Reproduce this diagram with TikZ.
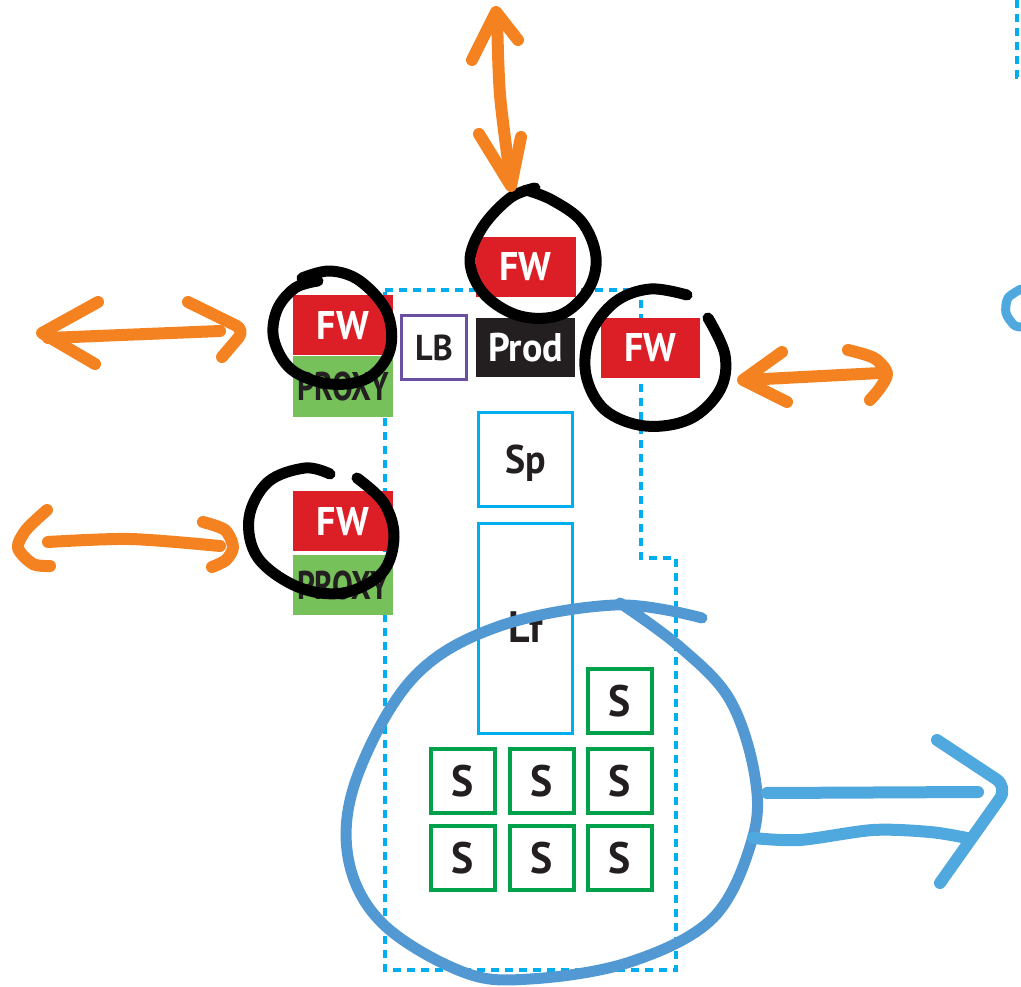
\documentclass[tikz,border=0pt]{standalone}
\usepackage{fontspec}
\setmainfont{PT Sans}[FakeStretch=0.95]
\newfontfamily\narrowfont{PT Sans}[FakeStretch=0.78]
\definecolor{fwred}{HTML}{DC1F26}
\definecolor{proxygreen}{HTML}{76C15A}
\definecolor{prodblack}{HTML}{231F20}
\definecolor{lbpurple}{HTML}{6B4FA0}
\definecolor{zonecyan}{HTML}{00AEEF}
\definecolor{shardgreen}{HTML}{00A14B}
\definecolor{arrowyellow}{HTML}{F58220}
\definecolor{loopblue}{HTML}{5299D3}
\definecolor{pushblue}{HTML}{4FA9DE}

\begin{document}
\begin{tikzpicture}[x=1pt,y=-1pt,
  every node/.style={inner sep=0pt,text height=28pt,text depth=0pt,
    font=\bfseries\fontsize{40}{40}\selectfont},
  fw/.style={fill=fwred,text=white,minimum width=100pt,minimum height=60pt},
  proxy/.style={fill=proxygreen,text=prodblack,minimum width=100pt,minimum height=61pt,
    font=\narrowfont\bfseries\fontsize{40}{40}\selectfont},
  svc/.style={draw=zonecyan,line width=3pt,text=prodblack},
  shard/.style={draw=shardgreen,line width=4pt,minimum size=64pt,text=prodblack,
    font=\bfseries\fontsize{44}{44}\selectfont,text height=31pt},
  zone/.style={zonecyan,line width=4pt,dash pattern=on 8pt off 6pt},
  ring/.style={black,line width=11pt,line cap=round,line join=round},
  swap/.style={arrowyellow,line width=12pt,line cap=round,line join=round},
  push/.style={pushblue,line width=12pt,line cap=round,line join=round}]

\useasboundingbox (0,0) rectangle (1021,987);

% zone
\draw[zone] (385,290) -- (641,290) -- (641,558) -- (676,558) -- (676,970) -- (385,970) -- cycle;
\draw[zone] (1017,0) -- (1017,77) -- (1021,77);

% boxes
\node[fw] (fwtop) at (525.5,267) {FW};
\node[fill=prodblack,text=white,minimum width=99pt,minimum height=59pt] (prod) at (525.5,347.5) {Prod};
\node[draw=lbpurple,line width=3pt,minimum width=65pt,minimum height=64pt,text=prodblack,
  font=\bfseries\fontsize{36}{36}\selectfont,text height=25pt] (lb) at (434,347.5) {LB};
\node[proxy] (proxya) at (343,386.5) {PROXY};
\node[fw] (fwa) at (343,325) {FW};
\node[fw,minimum width=99pt] (fwr) at (650.5,348) {FW};
\node[proxy,minimum height=60pt] (proxyb) at (343,585) {PROXY};
\node[fw] (fwb) at (343,521) {FW};
\node[svc,minimum width=94pt,minimum height=94pt] (sp) at (525.5,459.5) {Sp};
\node[svc,minimum width=94pt,minimum height=210pt,font=\bfseries\fontsize{44}{44}\selectfont] (lf) at (525.5,628.5) {Lf};
\node[shard] (s0) at (619.5,701) {S};
\foreach \x [count=\i] in {463,542,619.5}
  \foreach \y [count=\j] in {781,858}
    \node[shard] (s\i\j) at (\x,\y) {S};

% circled firewalls
\draw[ring] plot[smooth,tension=0.6] coordinates {(535,188) (510,198) (482,228) (470,262) (485,295) (520,316) (560,315) (588,290) (596,257) (582,222) (552,200) (526,190)};
\draw[ring] plot[smooth,tension=0.6] coordinates {(318,281) (295,288) (277,310) (274,340) (292,370) (330,384) (368,378) (390,350) (387,312) (360,281) (330,271) (302,278)};
\draw[ring] plot[smooth,tension=0.6] coordinates {(687,295) (650,289) (615,302) (590,335) (586,375) (605,410) (645,426) (690,419) (720,390) (725,355) (708,318)};
\draw[ring] plot[smooth,tension=0.6] coordinates {(330,474) (305,468) (268,482) (249,518) (258,558) (298,587) (343,593) (382,573) (394,537) (384,503) (357,478)};

% traffic
\draw[swap] plot[smooth] coordinates {(497,14) (500,95) (511,183)};
\draw[swap] (472,60) -- (496,12) -- (518,40);
\draw[swap] (479,134) -- (511,186) -- (521,137);
\draw[swap] (48,338) -- (220,331);
\draw[swap] (98,302) -- (42,333) -- (95,364);
\draw[swap,rounded corners=10pt] (188,302) -- (245,330) -- (222,357);
\draw[swap] plot[smooth] coordinates {(48,542) (130,539) (220,546)};
\draw[swap] plot[smooth] coordinates {(47,510) (26,530) (18,548) (33,564) (50,566)};
\draw[swap] plot[smooth] coordinates {(203,522) (225,530) (233,547) (226,560) (212,567)};
\draw[swap] (745,380) -- (880,373);
\draw[swap] (782,352) -- (743,380) -- (787,402);
\draw[swap] plot[smooth] coordinates {(848,350) (874,358) (887,373) (880,388) (870,400)};

% shards group
\draw[loopblue,line width=11pt,line cap=round] plot[smooth,tension=0.6] coordinates {(620,603) (680,647) (730,700) (755,777) (752,840) (713,918) (630,962) (530,979) (463,972) (382,923) (348,857) (357,777) (413,678) (497,627) (615,605) (702,618)};
\draw[push] (767,793) -- (978,792);
\draw[push] plot[smooth] coordinates {(753,838) (800,840) (873,830) (930,832) (967,838)};
\draw[push,rounded corners=14pt] (937,740) -- (1008,787) -- (940,883);
\draw[push,line width=9pt] plot[smooth] coordinates {(1021,289) (1008,298) (1006,313) (1014,325) (1021,327)};

\end{tikzpicture}
\end{document}
